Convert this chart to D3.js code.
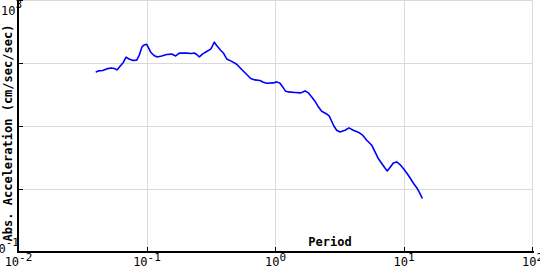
<!DOCTYPE html>
<html>
<head>
<meta charset="utf-8">
<script src="https://cdn.jsdelivr.net/npm/d3@7"></script>
<style>
  body { margin: 0; background: #fff; }
  svg { display: block; }
  text { font-family: "DejaVu Sans Mono", monospace; }
</style>
</head>
<body>
<svg id="chart" width="540" height="270"></svg>
<script>
// period (sec) and absolute acceleration (cm/sec/sec)
const periods = [
  0.0399, 0.0418, 0.0452, 0.0485, 0.0525, 0.0557, 0.0584, 0.0617, 0.0654, 0.0687,
  0.0724, 0.0781, 0.0832, 0.0871, 0.0914, 0.0953, 0.0995, 0.1023, 0.1069, 0.1134,
  0.1202, 0.1301, 0.1423, 0.1556, 0.1672, 0.1784, 0.2037, 0.2229, 0.2333, 0.2436,
  0.2553, 0.2714, 0.2915, 0.3131, 0.3243, 0.334, 0.3486, 0.3698, 0.3926, 0.4169,
  0.456, 0.4989, 0.5458, 0.597, 0.6412, 0.6918, 0.7568, 0.8035, 0.854, 0.9616,
  1.022, 1.084, 1.138, 1.192, 1.258, 1.419, 1.578, 1.697, 1.8, 1.913,
  2.028, 2.153, 2.288, 2.5, 2.623, 2.736, 2.851, 2.993, 3.177, 3.475,
  3.733, 4.029, 4.407, 4.77, 5.13, 5.61, 5.95, 6.31, 6.71, 7.11,
  7.41, 7.78, 8.26, 8.77, 9.31, 9.88, 10.5, 11.1, 11.8, 12.6,
  13.3, 13.9
];
const accel = [
  72.8, 76.3, 77.4, 82.1, 85.1, 83.3, 79.1, 90.6, 104, 126,
  118, 112, 113, 136, 183, 197, 202, 181, 151, 134,
  127, 132, 139, 141, 132, 146, 146, 144, 147, 139,
  127, 142, 155, 169, 193, 218, 193, 167, 147, 118,
  108, 97.5, 80.3, 66.9, 57.8, 54.9, 53.7, 50.5, 48.7, 49.2,
  51.1, 48.7, 42.5, 36.7, 35.4, 34.7, 34.2, 36.7, 34.2, 29.5,
  25.2, 20.5, 17.5, 15.8, 14.6, 12.1, 10.1, 8.73, 8.2, 8.73,
  9.5, 8.73, 8.12, 7.28, 6.06, 5.05, 3.95, 3.1, 2.59, 2.2,
  1.97, 2.23, 2.64, 2.74, 2.49, 2.15, 1.83, 1.55, 1.27, 1.06,
  0.865, 0.72
];
const xTicks = [0.01, 0.1, 1, 10, 100];
const xTickExp = ["-2", "-1", "0", "1", "2"];
const yTicks = [0.1, 1, 10, 100, 1000];
const yLabelTicks = [0.1, 1000];
const yLabelExp = ["-1", "3"];

const xTitle = "Period";
const yTitle = "Abs. Acceleration (cm/sec/sec)";

const plotLeft = 18.5, plotRight = 532.5, plotTop = 0.5, plotBottom = 252.5;

const x = d3.scaleLog().domain([0.01, 100]).range([plotLeft, plotRight]);
const y = d3.scaleLog().domain([0.1, 1000]).range([plotBottom, plotTop]);

const svg = d3.select('#chart');

// grid
const grid = svg.append('g').attr('stroke', '#d9d9d9').attr('shape-rendering', 'crispEdges');
grid.selectAll('line.gx')
  .data(xTicks)
  .join('line')
  .attr('class', 'gx')
  .attr('x1', d => x(d)).attr('x2', d => x(d))
  .attr('y1', plotTop).attr('y2', plotBottom);
grid.selectAll('line.gy')
  .data(yTicks)
  .join('line')
  .attr('class', 'gy')
  .attr('x1', plotLeft).attr('x2', plotRight)
  .attr('y1', d => y(d)).attr('y2', d => y(d));

// axes lines + inward ticks
const ax = svg.append('g').attr('stroke', '#000').attr('shape-rendering', 'crispEdges');
ax.append('line').attr('x1', 18).attr('x2', 18).attr('y1', 0).attr('y2', 253).attr('stroke-width', 2);
ax.append('line').attr('x1', 17).attr('x2', plotRight + 1).attr('y1', 252).attr('y2', 252).attr('stroke-width', 2);
ax.selectAll('line.tx')
  .data(xTicks)
  .join('line')
  .attr('class', 'tx')
  .attr('x1', d => x(d)).attr('x2', d => x(d))
  .attr('y1', 252).attr('y2', 247);
ax.selectAll('line.ty')
  .data(yTicks)
  .join('line')
  .attr('class', 'ty')
  .attr('x1', 18).attr('x2', 23)
  .attr('y1', d => y(d)).attr('y2', d => y(d));

// x tick labels: 10 with superscript exponent
const xl = svg.append('g').attr('fill', '#000').attr('font-size', 12);
xTicks.forEach((t, i) => {
  const txt = xl.append('text')
    .attr('x', x(t))
    .attr('y', 266)
    .attr('text-anchor', 'middle');
  txt.append('tspan').text('10');
  txt.append('tspan').attr('dy', -5).attr('font-size', 11).text(xTickExp[i]);
});

// y tick labels only at the ends
const yl = svg.append('g').attr('fill', '#000').attr('font-size', 12);
yLabelTicks.forEach((t, i) => {
  const base = Math.max(y(t), 15);
  const txt = yl.append('text')
    .attr('x', i === 0 ? 19 : 22)
    .attr('y', base)
    .attr('text-anchor', 'end');
  txt.append('tspan').text('10');
  txt.append('tspan').attr('dy', -7).attr('font-size', 11).text(yLabelExp[i]);
});

// titles
svg.append('text')
  .attr('x', 330).attr('y', 246)
  .attr('text-anchor', 'middle')
  .attr('font-size', 12).attr('font-weight', 'bold')
  .text(xTitle);
svg.append('text')
  .attr('transform', 'translate(12,133) rotate(-90)')
  .attr('text-anchor', 'middle')
  .attr('font-size', 12).attr('font-weight', 'bold')
  .text(yTitle);

// spectrum curve
const line = d3.line()
  .x((d, i) => x(periods[i]))
  .y(d => y(d));

svg.append('path')
  .datum(accel)
  .attr('fill', 'none')
  .attr('stroke', '#0000ff')
  .attr('stroke-width', 1.6)
  .attr('stroke-linejoin', 'round')
  .attr('d', line);
</script>
</body>
</html>
